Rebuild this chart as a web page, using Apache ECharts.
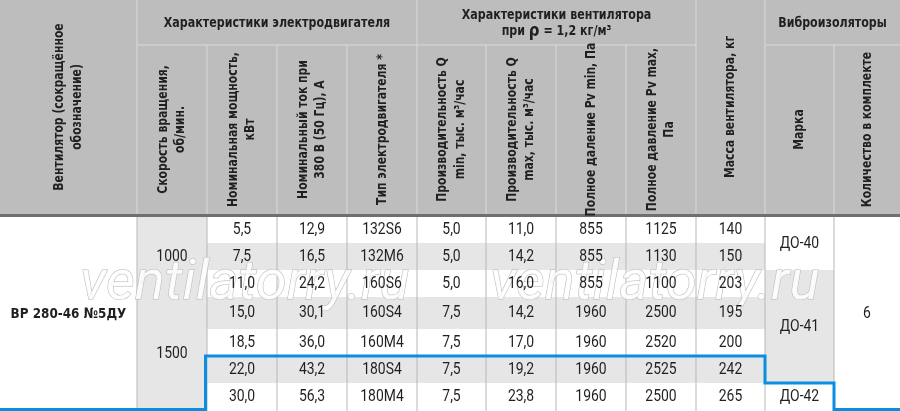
<!DOCTYPE html>
<html><head><meta charset="utf-8">
<script src="https://cdn.jsdelivr.net/npm/echarts@6/dist/echarts.min.js"></script>
<style>html,body{margin:0;padding:0;background:#fff}#c{width:900px;height:411px}</style>
</head><body><div id="c"></div>
<script>
// ---------- data ----------
const fanName = 'ВР 280-46 №5ДУ';
const speedLabels = ['1000', '1500'];
const speedRowSpans = [[0, 2], [3, 6]];
const powerKW = [5.5, 7.5, 11.0, 15.0, 18.5, 22.0, 30.0];
const currentA = [12.9, 16.5, 24.2, 30.1, 36.0, 43.2, 56.3];
const motorTypes = ['132S6', '132M6', '160S6', '160S4', '160M4', '180S4', '180M4'];
const flowMin = [5.0, 5.0, 5.0, 7.5, 7.5, 7.5, 7.5];
const flowMax = [11.0, 14.2, 16.0, 14.2, 17.0, 19.2, 23.8];
const pressureMin = [855, 855, 855, 1960, 1960, 1960, 1960];
const pressureMax = [1125, 1130, 1100, 2500, 2520, 2525, 2500];
const massKg = [140, 150, 203, 195, 200, 242, 265];
const isolatorBrands = ['ДО-40', 'ДО-41', 'ДО-42'];
const isolatorRowSpans = [[0, 1], [2, 5], [6, 6]];
const isolatorCount = '6';
const groupHeaders = [
  'Характеристики электродвигателя',
  'Характеристики вентилятора\nпри {r|ρ} = 1,2 кг/м³',
  'Виброизоляторы'
];
const nameHeader = 'Вентилятор (сокращённое\nобозначение)';
const massHeader = 'Масса вентилятора, кг';
const columnHeaders = [
  'Скорость вращения,\nоб/мин.',
  'Номинальная мощность,\nкВт',
  'Номинальный ток при\n380 В (50 Гц), А',
  'Тип электродвигателя *',
  'Производительность Q\nmin, тыс. м³/час',
  'Производительность Q\nmax, тыс. м³/час',
  'Полное даление Pv min, Па',
  'Полное давление Pv max,\nПа'
];
const isolatorHeaders = ['Марка', 'Количество в комплекте'];
const watermarkText = 'ventilatorry.ru';

// ---------- layout ----------
const W = 900, H = 411;
const colEdges = [0, 137, 207, 277, 347, 417, 486, 556, 626, 696, 765, 834, 900];
const headTop = 0, headMid = 45, headBottom = 214, bodyTop = 217;
const rowEdges = [217, 243, 270, 297, 329, 356, 383, 411];
const C = {
  head: '#bdbdbd', headLine: '#dadada', rule: '#6f6f6f', bodyLine: '#b7b7b7',
  gray: '#e6e6e6', white: '#ffffff', text: '#231f20', blue: '#0b8de0'
};
const headFont = '"DejaVu Sans Condensed", Roboto, sans-serif';
const bodyFont = 'Roboto, "Liberation Sans", sans-serif';

const fmt1 = v => v.toFixed(1).replace('.', ',');

// ---------- cells ----------
const cells = [];
function cell(x0, x1, y0, y1, fill, text, kind) { cells.push({ x0, x1, y0, y1, fill, text, kind }); }

// header
cell(colEdges[0], colEdges[1], headTop, headBottom, C.head, nameHeader, 'rot');
cell(colEdges[1], colEdges[5], headTop, headMid, C.head, groupHeaders[0], 'grp');
cell(colEdges[5], colEdges[9], headTop, headMid, C.head, groupHeaders[1], 'grp');
cell(colEdges[9], colEdges[10], headTop, headBottom, C.head, massHeader, 'rot');
cell(colEdges[10], colEdges[12], headTop, headMid, C.head, groupHeaders[2], 'grp');
columnHeaders.forEach((t, i) => cell(colEdges[1 + i], colEdges[2 + i], headMid, headBottom, C.head, t, 'rot'));
isolatorHeaders.forEach((t, i) => cell(colEdges[10 + i], colEdges[11 + i], headMid, headBottom, C.head, t, 'rot'));

// body
cell(colEdges[0], colEdges[1], rowEdges[0], rowEdges[7], C.white, fanName, 'name');
speedLabels.forEach((t, i) => cell(colEdges[1], colEdges[2], rowEdges[speedRowSpans[i][0]], rowEdges[speedRowSpans[i][1] + 1], C.gray, t, 'body'));
const bodyCols = [powerKW.map(fmt1), currentA.map(fmt1), motorTypes, flowMin.map(fmt1), flowMax.map(fmt1),
  pressureMin.map(String), pressureMax.map(String), massKg.map(String)];
bodyCols.forEach((col, ci) => col.forEach((t, r) =>
  cell(colEdges[2 + ci], colEdges[3 + ci], rowEdges[r], rowEdges[r + 1], r % 2 ? C.gray : C.white, t, 'body')));
isolatorBrands.forEach((t, i) => cell(colEdges[10], colEdges[11], rowEdges[isolatorRowSpans[i][0]], rowEdges[isolatorRowSpans[i][1] + 1], i === 1 ? C.gray : C.white, t, 'body'));
cell(colEdges[11], colEdges[12], rowEdges[0], rowEdges[7], C.white, isolatorCount, 'body');

// ---------- rules ----------
const rules = [];
function rule(x0, y0, x1, y1, color, width) { rules.push({ x0, y0, x1, y1, color, width }); }
[1, 5, 9, 10].forEach(i => rule(colEdges[i], headTop, colEdges[i], headMid, C.headLine, 1));
for (let i = 1; i <= 11; i++) rule(colEdges[i], headMid, colEdges[i], headBottom, C.headLine, 1);
rule(colEdges[1], headMid, colEdges[9], headMid, C.headLine, 1.2);
rule(colEdges[10], headMid, colEdges[12], headMid, C.headLine, 1.2);
rule(0, (headBottom + bodyTop) / 2, W, (headBottom + bodyTop) / 2, C.rule, 3);
for (let i = 1; i <= 11; i++) rule(colEdges[i], bodyTop, colEdges[i], rowEdges[7], C.bodyLine, 1);

// blue highlight outline (rows 6-7)
const yb = rowEdges[7] - 1.5;
const outline = [
  [colEdges[0], yb], [colEdges[2] - 1.5, yb], [colEdges[2] - 1.5, rowEdges[5]],
  [colEdges[10], rowEdges[5]], [colEdges[10], rowEdges[6]], [colEdges[11], rowEdges[6]],
  [colEdges[11], yb], [colEdges[12], yb]
];

function textEl(kind, text, x, y) {
  if (kind === 'body') return { type: 'text', x, y, scaleX: 0.87,
    style: { text, fontFamily: bodyFont, fontSize: 16, fill: C.text, align: 'center', verticalAlign: 'middle' } };
  if (kind === 'name') return { type: 'text', x, y, scaleX: 0.92,
    style: { text, fontFamily: headFont, fontWeight: 'bold', fontSize: 14.5, fill: C.text, align: 'center', verticalAlign: 'middle' } };
  const rot = kind === 'rot';
  return {
    type: 'text', x, y: rot ? y : y + 1, rotation: rot ? Math.PI / 2 : 0, scaleX: rot ? 0.86 : 0.88,
    style: {
      text, fontFamily: headFont, fontWeight: 'bold', fontSize: 14, lineHeight: rot ? 17.5 : 16.5, fill: C.text,
      align: 'center', verticalAlign: 'middle',
      rich: { r: { fontFamily: 'DejaVu Sans', fontWeight: 'bold', fontSize: 17, fill: C.text, lineHeight: 16.5 } }
    }
  };
}

const chart = echarts.init(document.getElementById('c'), null, { renderer: 'canvas' });
chart.setOption({
  animation: false,
  backgroundColor: '#fff',
  grid: { left: 0, right: 0, top: 0, bottom: 0 },
  xAxis: { type: 'value', min: 0, max: W, show: false },
  yAxis: { type: 'value', min: 0, max: H, inverse: true, show: false },
  graphic: {
    elements: [0, 1].map(i => ({
      type: 'text', z: 3,
      x: [80, 490][i], y: 313,
      style: {
        text: watermarkText, fontFamily: 'Roboto, sans-serif', fontStyle: 'italic',
        fontSize: 56, fill: 'rgba(255,255,255,0.85)', stroke: '#b8b8b8', lineWidth: 1,
        align: 'left', verticalAlign: 'bottom'
      }
    }))
  },
  series: [
    {
      type: 'custom', z: 1, silent: true,
      data: cells.map(c => [c.x0, c.x1, c.y0, c.y1]),
      renderItem(params, api) {
        const p0 = api.coord([api.value(0), api.value(2)]);
        const p1 = api.coord([api.value(1), api.value(3)]);
        return { type: 'rect', shape: { x: p0[0], y: p0[1], width: p1[0] - p0[0], height: p1[1] - p0[1] },
          style: { fill: cells[params.dataIndex].fill } };
      }
    },
    {
      type: 'custom', z: 2, silent: true,
      data: rules.map(r => [r.x0, r.y0, r.x1, r.y1]),
      renderItem(params, api) {
        const r = rules[params.dataIndex];
        const a = api.coord([api.value(0), api.value(1)]);
        const b = api.coord([api.value(2), api.value(3)]);
        return { type: 'line', shape: { x1: a[0], y1: a[1], x2: b[0], y2: b[1] },
          style: { stroke: r.color, lineWidth: r.width } };
      }
    },
    {
      type: 'custom', z: 5, silent: true,
      data: cells.map(c => [(c.x0 + c.x1) / 2, (c.y0 + c.y1) / 2]),
      renderItem(params, api) {
        const c = cells[params.dataIndex];
        const p = api.coord([api.value(0), api.value(1)]);
        return textEl(c.kind, c.text, p[0], p[1]);
      }
    },
    {
      type: 'custom', z: 6, silent: true,
      data: [0],
      renderItem(params, api) {
        return { type: 'polyline', shape: { points: outline.map(pt => api.coord(pt)) },
          style: { stroke: C.blue, lineWidth: 3, fill: null, lineJoin: 'miter' } };
      }
    }
  ]
});
</script></body></html>
